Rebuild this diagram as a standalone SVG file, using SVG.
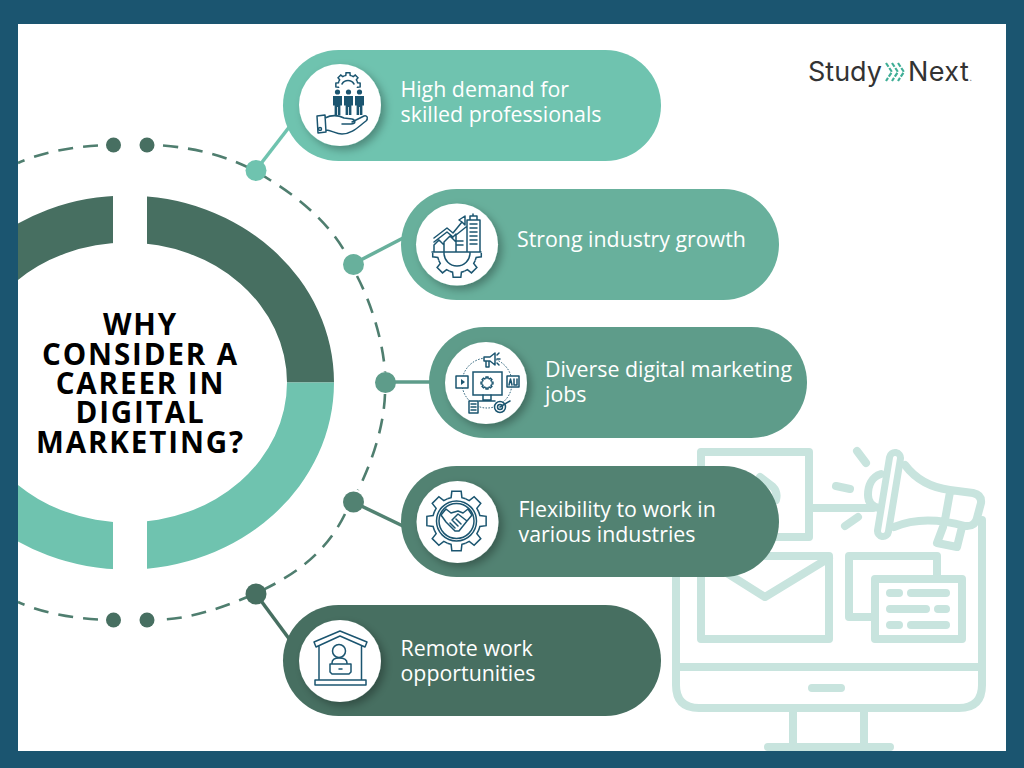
<svg xmlns="http://www.w3.org/2000/svg" width="1024" height="768" viewBox="0 0 1024 768">
<style>
.lbl{font-family:"Open Sans","Noto Sans",sans-serif;font-size:21.35px;fill:#fff}
.ttl{font-family:"Open Sans","Noto Sans",sans-serif;font-size:29.5px;font-weight:700;fill:#000;letter-spacing:1.9px;text-anchor:middle}
.bg{fill:none;stroke:#c8e4de;stroke-width:8;stroke-linecap:round;stroke-linejoin:round}
.ic{fill:none;stroke:#1b5570;stroke-width:1.5;stroke-linejoin:round;stroke-linecap:round}
.ics{fill:#1b5570}
.dash{fill:none;stroke:#4f7e6f;stroke-width:2.6;stroke-dasharray:15 10}
.circ{fill:#fff;filter:url(#sh)}
.gp{fill:none;stroke:#1b5570;stroke-width:1.5;vector-effect:non-scaling-stroke}
.logo{font-family:Inter,"Liberation Sans",sans-serif;font-size:27px;fill:#333;font-weight:400}
</style>
<defs>
<filter id="sh" x="-30%" y="-30%" width="170%" height="170%"><feDropShadow dx="4" dy="4" stdDeviation="4" flood-color="#000" flood-opacity=".3"/></filter>
<clipPath id="panel"><rect x="18" y="24" width="988" height="727"/></clipPath>
<clipPath id="top"><rect x="18" y="180" width="95" height="202.5"/><rect x="147" y="180" width="200" height="202.5"/></clipPath>
<clipPath id="bot"><rect x="18" y="382.5" width="95" height="200"/><rect x="147" y="382.5" width="200" height="200"/></clipPath>
<clipPath id="lower"><rect x="425" y="253" width="60" height="30"/></clipPath>
<path id="ring" fill-rule="evenodd" d="M-80,382.5a207,187 0 1,0 414,0a207,187 0 1,0 -414,0ZM-33,382.5a160,140 0 1,0 320,0a160,140 0 1,0 -320,0Z"/>
<g id="t"><path class="gp" d="M22.17,-9.18L23.38,-5.4L29.63,-4.69L29.63,4.69L23.38,5.4L22.17,9.18"/></g>
<g id="gear"><use href="#t"/><use href="#t" transform="rotate(45)"/><use href="#t" transform="rotate(90)"/><use href="#t" transform="rotate(135)"/><use href="#t" transform="rotate(180)"/><use href="#t" transform="rotate(225)"/><use href="#t" transform="rotate(270)"/><use href="#t" transform="rotate(315)"/></g>
<g id="man"><circle cx="0" cy="-9" r="2.6" class="ics"/><path class="ics" d="M-4.5,-5h9v9.5h-1.6v9.5h-2.5v-8h-.8v8h-2.5v-9.5h-1.6Z"/></g>
</defs>

<rect width="1024" height="768" fill="#1b5570"/>
<rect x="18" y="24" width="988" height="727" fill="#fff"/>

<g id="background-icon" clip-path="url(#panel)">
<path class="bg" d="M701,452H809V537H701Z"/>
<path class="bg" d="M760,477L773,487Q778,492 776,500"/>
<path class="bg" d="M701,556H829V639H701ZM829,558L765,597L703,558"/>
<path class="bg" d="M873,617H849V556H937V579M875,579H962V639H875Z"/>
<path class="bg" d="M890,593h9M911,593h35M890,609h36M938,609h8M890,625h9M911,625h35"/>
<path class="bg" d="M809,508H873M857,451L866,463M836,486L850,489M845,526L858,517"/>
<path class="bg" d="M676,560V685Q676,708 699,708H959Q982,708 982,685V520M676,667H982M812,688H841M793,708V747M864,708V747M768,747H890"/>
<path class="bg" d="M881,474C871,477 868,487 868,495C868,503 873,507 879,508"/>
<path d="M895,458L883,531" stroke="#c8e4de" stroke-width="18" stroke-linecap="round"/>
<path d="M895,458L883,531" stroke="#fff" stroke-width="4" stroke-linecap="round"/>
<path class="bg" d="M905,465C917,481 934,488 950,490L973,493Q982,495 981,503L977,518Q975,527 965,526C940,519 915,518 894,527M950,492L945,520M943,527L937,543L957,547L962,527"/>
</g>

<g id="center-ring">
<use href="#ring" fill="#476f61" clip-path="url(#top)"/>
<use href="#ring" fill="#6fc3af" clip-path="url(#bot)"/>
<text class="ttl"><tspan x="140.500" y="335">WHY</tspan><tspan x="140.500" y="365">CONSIDER A</tspan><tspan x="140.500" y="394">CAREER IN</tspan><tspan x="140.500" y="423">DIGITAL</tspan><tspan x="140.500" y="453">MARKETING?</tspan></text>
</g>

<g id="connectors">
<g clip-path="url(#panel)">
<path class="dash" d="M163,145.500C205,149 240,160 270,180C300,198 330,225 345,252M357,276C372,305 383,342 385,372M385,394C384,425 373,460 358,490M345,514C325,555 290,580 240,600C215,610 190,618 163,619.500"/>
<path class="dash" d="M98,145.500C70,147 40,153 18,163M98,619.500C70,618 40,612 18,602"/>
</g>
<path d="M256,170L290,126" stroke="#6fc3af" stroke-width="3.500"/>
<path d="M353,264L405,237" stroke="#68b09c" stroke-width="3.500"/>
<path d="M386,382H432" stroke="#5e9c8a" stroke-width="3.500"/>
<path d="M353,502L405,527" stroke="#528272" stroke-width="3.500"/>
<path d="M256,594L290,640" stroke="#476f61" stroke-width="3.500"/>
<circle cx="256" cy="170.500" r="10.500" fill="#6fc3af"/>
<circle cx="353.500" cy="264.500" r="10.500" fill="#68b09c"/>
<circle cx="385.500" cy="382.500" r="10.500" fill="#5e9c8a"/>
<circle cx="353.500" cy="502" r="10.500" fill="#528272"/>
<circle cx="256" cy="594" r="10.500" fill="#476f61"/>
<circle cx="113.500" cy="145" r="7.500" fill="#476f61"/>
<circle cx="147" cy="145" r="7.500" fill="#476f61"/>
<circle cx="113.500" cy="620" r="7.500" fill="#476f61"/>
<circle cx="147" cy="620" r="7.500" fill="#476f61"/>
</g>

<g id="node-1">
<rect x="283" y="50" width="378" height="111" rx="55.500" fill="#6fc3af"/>
<circle class="circ" cx="340" cy="105" r="41"/>
<use href="#gear" transform="translate(348,85) scale(.41)"/>
<path class="ic" d="M342,84a7,7 0 0 1 12,0"/>
<rect x="332" y="88" width="33" height="26" fill="#fff"/>
<use href="#man" x="337.500" y="101"/><use href="#man" x="348.500" y="101"/><use href="#man" x="359.500" y="101"/>
<path class="ic" d="M317,116L325,115L326,132L318,133ZM325,118C331,115 338,115 344,118L352,119C356,120 356,124 351,124L342,124M352,122L364,116C368,115 368,119 366,121C358,127 352,134 342,134C336,134 331,130 326,130"/>
<circle class="ic" cx="320" cy="129" r="1.500"/>
<text class="lbl"><tspan x="400.500" y="97">High demand for</tspan><tspan x="400.500" y="122">skilled professionals</tspan></text>
</g>

<g id="node-2">
<rect x="401" y="189" width="378" height="111" rx="55.500" fill="#68b09c"/>
<circle class="circ" cx="457" cy="244.500" r="41"/>
<g clip-path="url(#lower)"><use href="#gear" transform="translate(457,253) scale(.82)"/></g>
<path class="ic" d="M444,253a13,13 0 0 0 26,0M432,252H481M467,252V220H480V252M470,220V216H477V220M473,216V214M470,224h7M470,228h7M470,232h7M470,236h7M470,240h7M470,244h7M456,252V235L466,227M456,241h7M456,245h7M444,252V242L450,236L456,242V252M434,252V245L439,240L444,245M434,238L447,228L453,233L462,222L459,220L465,216L465,225L462,222M434,242L447,232L453,237L456,234"/>
<text class="lbl" x="517" y="247">Strong industry growth</text>
</g>

<g id="node-3">
<rect x="429" y="327" width="378" height="111" rx="55.500" fill="#5e9c8a"/>
<circle class="circ" cx="486" cy="383" r="41"/>
<circle cx="487" cy="383" r="25" fill="none" stroke="#1b5570" stroke-width="1" stroke-dasharray="1.500 1.500"/>
<rect x="473" y="372" width="29" height="23" fill="#fff" stroke="#1b5570" stroke-width="1.500"/>
<use href="#gear" transform="translate(487,383) scale(.2)"/>
<path class="ic" d="M483,395V400H491V395M479,401H495"/>
<path class="ic" d="M484,357H490L495,353V365L490,361H484ZM486,361V367H489V361M497,359h3M497,355l2,-2M497,363l2,2" style="fill:#fff"/>
<rect class="ic" x="456" y="376" width="12" height="12" style="fill:#fff"/><path class="ics" d="M461,379L465,382L461,385Z"/>
<rect class="ic" x="507" y="376" width="12" height="11" style="fill:#fff"/><path class="ic" d="M509,385l1.500,-6l1.500,6M514,379v6M517,379v6h-3"/>
<rect class="ic" x="469" y="401" width="9" height="12" style="fill:#fff"/><path class="ic" d="M471,404h5M471,407h5M471,410h5"/>
<circle class="ic" cx="500" cy="407" r="5.500" style="fill:#fff"/><circle class="ic" cx="500" cy="407" r="2.500"/><path class="ic" d="M500,407L510,401"/>
<text class="lbl"><tspan x="545" y="377">Diverse digital marketing</tspan><tspan x="545" y="402">jobs</tspan></text>
</g>

<g id="node-4">
<rect x="401" y="466" width="378" height="111" rx="55.500" fill="#528272"/>
<circle class="circ" cx="457.500" cy="522" r="41"/>
<use href="#gear" transform="translate(456.500,521)"/>
<circle class="ic" cx="456.500" cy="521" r="20"/><circle class="ic" cx="456.500" cy="521" r="17.500"/>
<path class="ic" d="M441,515L446,509L451,513L458,511L463,513L468,509L472,515L467,521L459,531L455,531L446,522ZM452,520L458,514L467,521M450,523L455,528M453,521L458,526M456,519L461,524"/>
<text class="lbl"><tspan x="518.500" y="517">Flexibility to work in</tspan><tspan x="518.500" y="542">various industries</tspan></text>
</g>

<g id="node-5">
<rect x="283" y="605" width="378" height="111" rx="55.500" fill="#476f61"/>
<circle class="circ" cx="340" cy="661" r="41"/>
<path class="ic" d="M314,642L340,631L367,642L365,647L340,636L316,647ZM319,646V679M361.500,646V679M315,680H366V685H315Z"/>
<circle class="ic" cx="339" cy="651" r="6.500"/>
<path class="ic" d="M332,663C332,659 335,658 339,658C344,658 347,659 347,663M330,664H351V672L349,674H332L330,672Z"/>
<path class="ic" d="M339,669h3"/>
<text class="lbl"><tspan x="400.500" y="656">Remote work</tspan><tspan x="400.500" y="681">opportunities</tspan></text>
</g>

<g id="logo">
<text class="logo" x="808" y="81">Study</text>
<path d="M886,63l6,9l-6,9M892,63l6,9l-6,9M898,63l6,9l-6,9" fill="none" stroke="#3fae96" stroke-width="2.200" stroke-dasharray="4.500 1.500"/>
<text class="logo" x="908" y="81" letter-spacing=".4">Next<tspan font-size="10" fill="#777">.</tspan></text>
</g>
</svg>
